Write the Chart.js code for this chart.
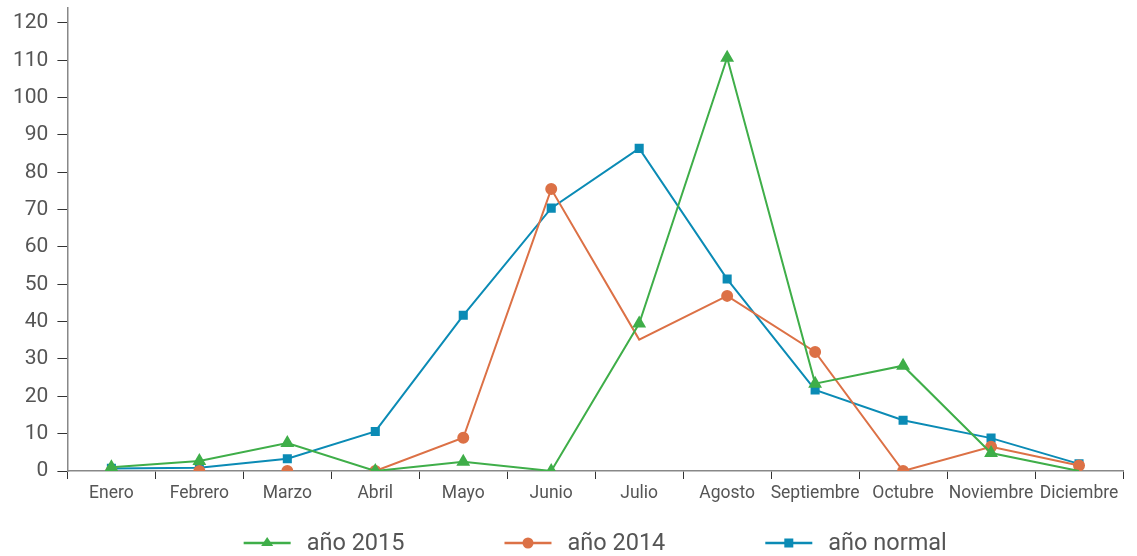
<!DOCTYPE html>
<html>
<head>
<meta charset="utf-8">
<script src="https://cdn.jsdelivr.net/npm/chart.js@4/dist/chart.umd.min.js"></script>
<style>
  html, body { margin: 0; padding: 0; background: #fff; }
  #wrap { width: 1137px; height: 556px; position: relative; }
</style>
</head>
<body>
<div id="wrap"><canvas id="lluviaChart"></canvas></div>
<script>
// Meses
const meses = ['Enero', 'Febrero', 'Marzo', 'Abril', 'Mayo', 'Junio', 'Julio', 'Agosto', 'Septiembre', 'Octubre', 'Noviembre', 'Diciembre'];

// Series
const anio2015 = [1.0, 2.7, 7.5, 0, 2.5, 0, 39.5, 110.7, 23.4, 28.2, 4.8, 0];
const anio2014 = [0, 0, 0, 0, 8.9, 75.5, 35.2, 46.9, 31.9, 0, 6.5, 1.5];
const anioNormal = [0.7, 0.9, 3.3, 10.6, 41.7, 70.4, 86.4, 51.4, 21.7, 13.6, 8.8, 1.9];

// Marcas del eje Y
const ticksY = [0, 10, 20, 30, 40, 50, 60, 70, 80, 90, 100, 110, 120];

// Marcadores ocultos (puntos sin símbolo en el original)
const radios2015 = [6, 6, 6, 6, 6, 6, 6, 6, 6, 6, 6, 0];
const radios2014 = [5, 5, 5, 5, 5, 5, 0, 5, 5, 5, 5, 5];

const verde = '#3fae49';
const naranja = '#dc7146';
const azul = '#0b8bb5';
const texto = '#555555';

// oculta tramos que quedan sobre el eje (valor 0 a valor 0)
const tramoCero = ctx => (ctx.p0.parsed.y === 0 && ctx.p1.parsed.y === 0) ? 'rgba(0,0,0,0)' : undefined;

// Leyenda dibujada: línea + marcador + texto
const leyenda = {
    id: 'leyenda',
    afterDraw(chart) {
        const { ctx, chartArea } = chart;
        const y = 543, lineW = 47, gapText = 16, gapItem = 100;
        ctx.save();
        ctx.font = '23.5px Roboto';
        const widths = chart.data.datasets.map(ds => lineW + gapText + ctx.measureText(ds.label).width);
        const total = widths.reduce((a, b) => a + b, 0) + gapItem * (widths.length - 1);
        let x = (chartArea.left + chartArea.right) / 2 - total / 2;
        chart.data.datasets.forEach((ds, i) => {
            ctx.strokeStyle = ds.borderColor;
            ctx.fillStyle = ds.borderColor;
            ctx.lineWidth = 2.5;
            ctx.beginPath();
            ctx.moveTo(x, y);
            ctx.lineTo(x + lineW, y);
            ctx.stroke();
            const cx = x + lineW / 2;
            ctx.beginPath();
            if (ds.pointStyle === 'triangle') {
                ctx.moveTo(cx, y - 6);
                ctx.lineTo(cx + 6, y + 3);
                ctx.lineTo(cx - 6, y + 3);
                ctx.closePath();
            } else if (ds.pointStyle === 'circle') {
                ctx.arc(cx, y, 5.5, 0, Math.PI * 2);
            } else {
                ctx.rect(cx - 4.5, y - 4.5, 9, 9);
            }
            ctx.fill();
            ctx.fillStyle = texto;
            ctx.textBaseline = 'middle';
            ctx.fillText(ds.label, x + lineW + gapText, y + 1);
            x += widths[i] + gapItem;
        });
        ctx.restore();
    }
};

document.addEventListener('DOMContentLoaded', function () {
    const ctx = document.getElementById('lluviaChart').getContext('2d');

    const config = {
        type: 'line',
        data: {
            labels: meses,
            datasets: [
                {
                    label: 'año 2015',
                    data: anio2015,
                    borderColor: verde,
                    backgroundColor: verde,
                    pointStyle: 'triangle',
                    pointRadius: radios2015,
                    borderWidth: 2,
                    segment: { borderColor: tramoCero }
                },
                {
                    label: 'año 2014',
                    data: anio2014,
                    borderColor: naranja,
                    backgroundColor: naranja,
                    pointStyle: 'circle',
                    pointRadius: radios2014,
                    borderWidth: 2,
                    segment: { borderColor: tramoCero }
                },
                {
                    label: 'año normal',
                    data: anioNormal,
                    borderColor: azul,
                    backgroundColor: azul,
                    pointStyle: 'rect',
                    pointRadius: 5,
                    borderWidth: 2
                }
            ]
        },
        options: {
            responsive: true,
            maintainAspectRatio: false,
            animation: false,
            layout: { padding: { left: 4, right: 14, top: 7, bottom: 48 } },
            plugins: {
                legend: { display: false },
                tooltip: { enabled: false }
            },
            scales: {
                x: {
                    offset: true,
                    border: { color: '#888888', width: 1.5 },
                    grid: { drawOnChartArea: false, offset: true, color: '#333333', tickLength: 8 },
                    ticks: { color: texto, font: { family: 'Roboto', size: 17.5 }, padding: 4, maxRotation: 0, autoSkip: false }
                },
                y: {
                    min: 0,
                    max: 124,
                    border: { color: '#888888', width: 1.5 },
                    grid: { drawOnChartArea: false, color: '#333333', tickLength: 10 },
                    ticks: { color: texto, font: { family: 'Roboto', size: 21 }, padding: 9 },
                    afterBuildTicks: scale => {
                        scale.ticks = ticksY.map(v => ({ value: v }));
                    },
                    afterFit: scale => {
                        scale.paddingTop = 0;
                    }
                }
            }
        },
        plugins: [leyenda]
    };

    new Chart(ctx, config);
});
</script>
</body>
</html>
